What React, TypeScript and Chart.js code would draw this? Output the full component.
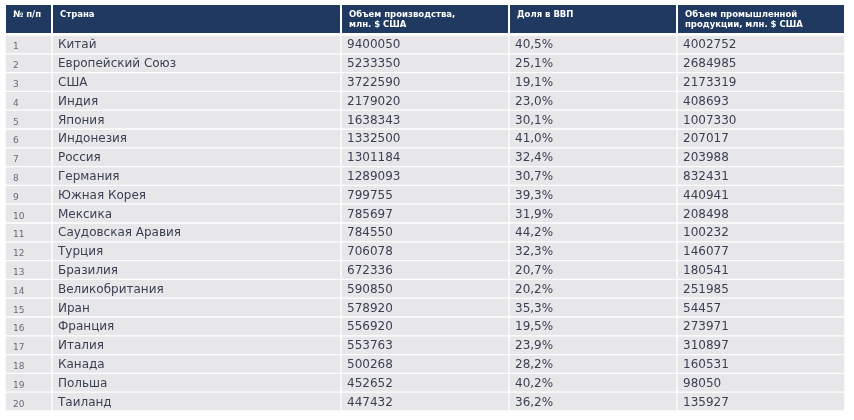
import React, { useEffect, useRef } from "react";
import { Chart, registerables } from "chart.js";

Chart.register(...registerables);

const HEADERS: string[][] = [
  ["№ п/п"],
  ["Страна"],
  ["Объем производства,", "млн. $ США"],
  ["Доля в ВВП"],
  ["Объем промышленной", "продукции, млн. $ США"],
];

const COUNTRIES = [
  "Китай", "Европейский Союз", "США", "Индия", "Япония", "Индонезия", "Россия",
  "Германия", "Южная Корея", "Мексика", "Саудовская Аравия", "Турция", "Бразилия",
  "Великобритания", "Иран", "Франция", "Италия", "Канада", "Польша", "Таиланд",
];

const PRODUCTION = [
  9400050, 5233350, 3722590, 2179020, 1638343, 1332500, 1301184, 1289093, 799755,
  785697, 784550, 706078, 672336, 590850, 578920, 556920, 553763, 500268, 452652, 447432,
];

const GDP_SHARE = [
  40.5, 25.1, 19.1, 23.0, 30.1, 41.0, 32.4, 30.7, 39.3, 31.9, 44.2, 32.3, 20.7, 20.2,
  35.3, 19.5, 23.9, 28.2, 40.2, 36.2,
];

const INDUSTRIAL = [
  4002752, 2684985, 2173319, 408693, 1007330, 207017, 203988, 832431, 440941, 208498,
  100232, 146077, 180541, 251985, 54457, 273971, 310897, 160531, 98050, 135927,
];

// column boundaries in x-scale units
const COL_EDGES = [5, 52, 341, 509, 677, 845];

const HEADER_BG = "#1f3960";
const CELL_BG = "#e7e7ea";
const TEXT = "#3a3f52";
const INDEX_TEXT = "#666b78";

const fmtShare = (v: number) => v.toFixed(1).replace(".", ",") + "%";

export default function App() {
  const ref = useRef<HTMLCanvasElement | null>(null);

  useEffect(() => {
    if (!ref.current) return;
    const rowLabels = COUNTRIES.map((_, i) => String(i + 1));
    const cellText = (col: number, i: number): string => {
      if (col === 0) return String(i + 1);
      if (col === 1) return COUNTRIES[i];
      if (col === 2) return String(PRODUCTION[i]);
      if (col === 3) return fmtShare(GDP_SHARE[i]);
      return String(INDUSTRIAL[i]);
    };

    const tablePlugin = {
      id: "tableText",
      beforeDatasetsDraw(chart: any) {
        const { ctx, chartArea, scales } = chart;
        const x = scales.x;
        ctx.save();
        const top = chartArea.top - 30;
        const bottom = chartArea.top - 2;
        for (let c = 0; c < HEADERS.length; c++) {
          const x0 = x.getPixelForValue(COL_EDGES[c]);
          const x1 = x.getPixelForValue(COL_EDGES[c + 1]);
          ctx.fillStyle = HEADER_BG;
          ctx.fillRect(x0 + 1, top, x1 - x0 - 2, bottom - top);
        }
        ctx.restore();
      },
      afterDatasetsDraw(chart: any) {
        const { ctx, chartArea, scales } = chart;
        const x = scales.x;
        const y = scales.y;
        ctx.save();
        ctx.fillStyle = "#ffffff";
        ctx.font = "bold 8.5px 'DejaVu Sans'";
        ctx.textBaseline = "middle";
        ctx.textAlign = "left";
        for (let c = 0; c < HEADERS.length; c++) {
          const tx = x.getPixelForValue(COL_EDGES[c]) + 8;
          HEADERS[c].forEach((line, k) => {
            ctx.fillText(line, tx, chartArea.top - 20 + k * 10);
          });
        }
        ctx.textBaseline = "alphabetic";
        for (let i = 0; i < COUNTRIES.length; i++) {
          const cy = y.getPixelForValue(i);
          for (let c = 0; c < 5; c++) {
            const tx = x.getPixelForValue(COL_EDGES[c]) + (c === 0 ? 8 : 6);
            if (c === 0) {
              ctx.font = "9px 'DejaVu Sans'";
              ctx.fillStyle = INDEX_TEXT;
              ctx.fillText(cellText(c, i), tx, cy + 5);
            } else {
              ctx.font = "12px 'DejaVu Sans'";
              ctx.fillStyle = TEXT;
              ctx.fillText(cellText(c, i), tx, cy + 4);
            }
          }
        }
        ctx.restore();
      },
    };

    const datasets = HEADERS.map((_, c) => ({
      label: "col" + c,
      data: COUNTRIES.map(() => [COL_EDGES[c], COL_EDGES[c + 1]] as [number, number]),
      backgroundColor: CELL_BG,
      borderColor: "#ffffff",
      borderWidth: { top: 1, bottom: 1, left: 1, right: 1 },
      borderSkipped: false as const,
      barPercentage: 1,
      categoryPercentage: 1,
      grouped: false,
    }));

    const chart = new Chart(ref.current, {
      type: "bar",
      data: { labels: rowLabels, datasets: datasets as any },
      options: {
        indexAxis: "y",
        animation: false,
        responsive: false,
        maintainAspectRatio: false,
        layout: { padding: { left: 5, right: 9, top: 35, bottom: 9 } },
        plugins: { legend: { display: false }, tooltip: { enabled: false } },
        scales: {
          x: { type: "linear", min: 5, max: 845, display: false },
          y: { type: "category", display: false, offset: true },
        },
      },
      plugins: [tablePlugin],
    });
    return () => chart.destroy();
  }, []);

  return (
    <div style={{ position: "fixed", left: 0, top: 0, width: 854, height: 420, background: "#fff" }}>
      <canvas ref={ref} width={854} height={420} style={{ width: 854, height: 420 }} />
    </div>
  );
}
